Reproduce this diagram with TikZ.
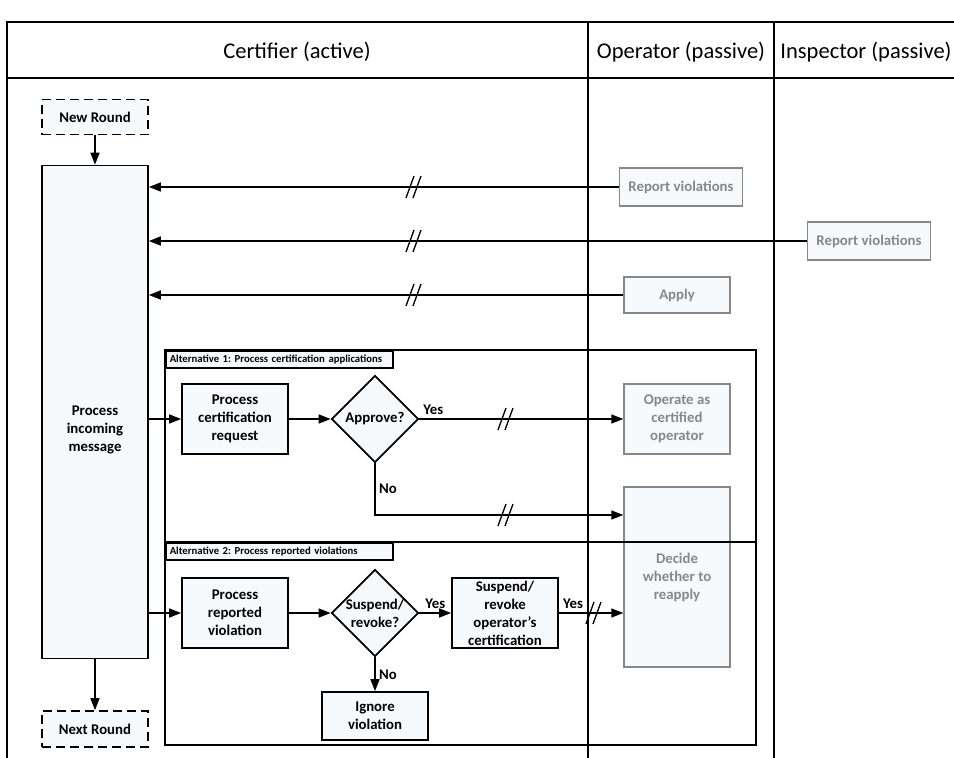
\documentclass[tikz,border=0pt]{standalone}
\usepackage{fontspec}
\setmainfont{Carlito}
\usetikzlibrary{shapes.geometric,arrows.meta}
\frenchspacing

\definecolor{boxfill}{HTML}{F7FAFD}
\definecolor{passive}{HTML}{878787}

\begin{document}
\begin{tikzpicture}[x=1pt, y=-1pt, node distance=60pt,
  >={Triangle[length=12pt,width=9pt]},
  every node/.style={font=\fontsize{14.8}{18}\selectfont\bfseries, align=center},
  actbox/.style={shape=rectangle, draw, line width=1.7pt, fill=boxfill, minimum width=106pt, minimum height=70pt, inner sep=1pt},
  pasbox/.style={actbox, draw=passive, text=passive, line width=1.4pt},
  roundbox/.style={actbox, dash pattern=on 9pt off 5pt, minimum height=35pt},
  decision/.style={shape=diamond, draw, line width=1.7pt, fill=boxfill, minimum width=87pt, minimum height=87pt, inner sep=0pt, aspect=1},
  lanetitle/.style={font=\fontsize{22.5}{26}\selectfont},
  altlabel/.style={draw, line width=1.5pt, fill=boxfill, anchor=north west, text width=219pt, minimum height=17pt, inner xsep=4pt, inner ysep=1pt, align=left, font=\fontsize{10.7}{12}\selectfont\bfseries},
  lane/.style={line width=1.8pt},
  alt/.style={line width=1.6pt},
  link/.style={->, line width=1.4pt},
  brk/.pic={\draw[line width=1.3pt] (-7pt,-11pt) -- (1pt,11pt) (0pt,-11pt) -- (8pt,11pt);}]
\useasboundingbox (0,0) rectangle (954,758);

\draw[lane] (954,22) -- (7,22) -- (7,758);
\draw[lane] (7,78) -- (954,78);
\draw[lane] (588,22) -- (588,758);
\draw[lane] (774,22) -- (774,758);
\node [lanetitle] (certt) at (297,52) {Certifier (active)};
\node [lanetitle] (opert) at (681,52) {Operator (passive)};
\node [lanetitle] (inspt) at (866,52) {Inspector (passive)};

\node [roundbox] (nr) at (95,117) {New Round};
\node [actbox, minimum height=493pt, label={[yshift=-18pt]center:{Process\\incoming\\message}}] (pim) at (95,412) {};
\node [roundbox, minimum height=36pt] (nx) at (95,729) {Next Round};

\node [pasbox, minimum width=123pt, minimum height=38pt] (rvo) at (681,187) {Report violations};
\node [pasbox, minimum width=123pt, minimum height=38pt] (rvi) at (869,241) {Report violations};
\node [pasbox, minimum height=36pt] (apl) at (677,295) {Apply};

\node [actbox] (pcr) at (235,419) {Process\\certification\\request};
\node [decision, right of=pcr, node distance=140pt] (apv) {Approve?};
\node [pasbox] (ope) at (677,419) {Operate as\\certified\\operator};
\node [pasbox, minimum height=180pt] (dec) at (677,577) {Decide\\whether to\\reapply};

\node [actbox, below of=pcr, node distance=194pt] (prv) {Process\\reported\\violation};
\node [decision, right of=prv, node distance=140pt] (srq) {Suspend/\\revoke?};
\node [actbox, right of=srq, node distance=130pt, inner sep=0pt] (sro) {Suspend/\\revoke\\operator's\\certification};
\node [actbox, below of=srq, node distance=103pt, minimum height=48pt] (igv) {Ignore\\violation};

\coordinate (brka) at (413,0);
\coordinate (brkb) at (505,0);
\coordinate (brkc) at (593,0);
\coordinate (nohook) at (375,515);

\draw[link] (nr) -- (pim);
\draw[link] (pim) -- (nx);
\draw[link] (rvo) -- (rvo -| pim.east);
\draw[link] (rvi) -- (rvi -| pim.east);
\draw[link] (apl) -- (apl -| pim.east);
\pic at (rvo -| brka) {brk};
\pic at (rvi -| brka) {brk};
\pic at (apl -| brka) {brk};

\draw[link] (pim.east |- pcr) -- (pcr);
\draw[link] (pcr) -- (apv);
\draw[link] (apv) -- node [pos=0, above right] {Yes} (ope);
\draw[link] (apv) -- node [midway, right] {No} (nohook) -- (nohook -| dec.west);
\pic at (apv -| brkb) {brk};
\pic at (nohook -| brkb) {brk};

\draw[link] (pim.east |- prv) -- (prv);
\draw[link] (prv) -- (srq);
\draw[link] (srq) -- node [midway, above] {Yes} (sro);
\draw[link] (sro) -- node [pos=0.22, above] {Yes} (sro -| dec.west);
\draw[link] (srq) -- node [midway, right] {No} (igv);
\pic at (sro -| brkc) {brk};

\draw[alt] (165,350) rectangle (756,542);
\draw[alt] (165,542) rectangle (756,745);
\node [altlabel] (alt1) at (165,350) {Alternative 1: Process certification applications};
\node [altlabel] (alt2) at (165,542) {Alternative 2: Process reported violations};
\end{tikzpicture}
\end{document}
